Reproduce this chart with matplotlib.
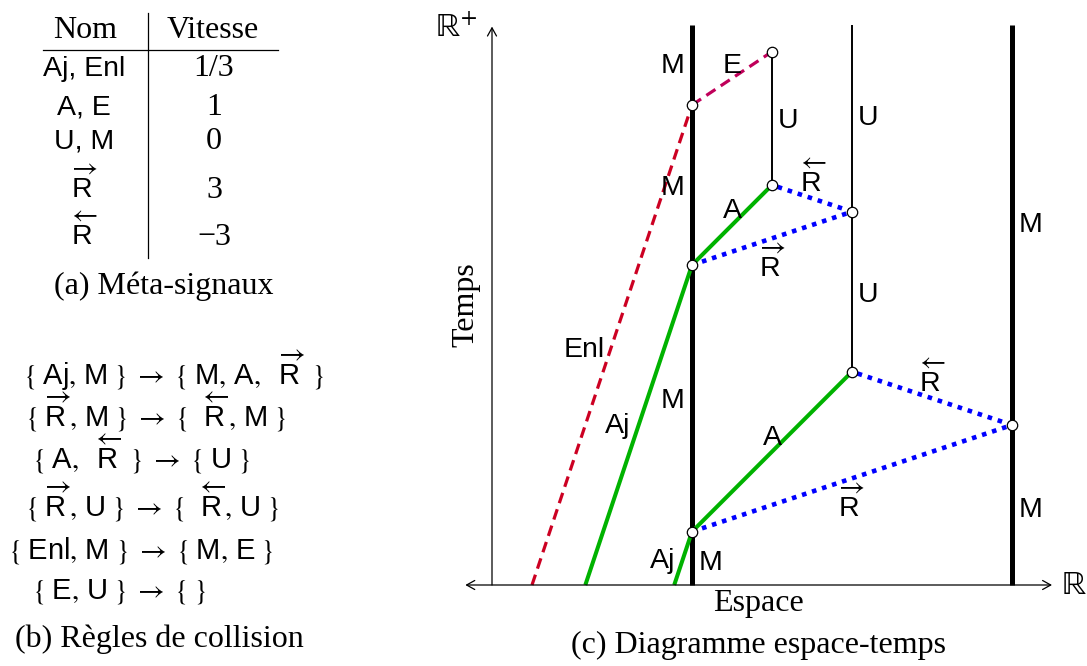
import matplotlib
matplotlib.use('Agg')
import matplotlib.pyplot as plt

plt.rcParams['mathtext.fontset'] = 'custom'
plt.rcParams['mathtext.rm'] = 'STIXGeneral'
plt.rcParams['mathtext.it'] = 'STIXGeneral:italic'
plt.rcParams['mathtext.sf'] = 'Liberation Sans'

SERIF = 'Liberation Serif'
SANS = 'Liberation Sans'
RR = r'$\overrightarrow{\mathsf{R}}$'
RL = r'$\overleftarrow{\mathsf{R}}$'

# (a) meta-signaux
sig_names = ['Aj, Enl', 'A, E', 'U, M', RR, RL]
sig_speeds = ['1/3', '1', '0', '3', '\u22123']

# (b) regles de collision
rules = [
    r'$\{\;\mathsf{Aj},\,\mathsf{M}\;\}\;\rightarrow\;\{\;\mathsf{M},\,\mathsf{A},\ \ \overrightarrow{\mathsf{R}}\;\;\}$',
    r'$\{\;\overrightarrow{\mathsf{R}}\,,\,\mathsf{M}\;\}\;\rightarrow\;\{\ \ \overleftarrow{\mathsf{R}}\,,\,\mathsf{M}\;\}$',
    r'$\{\;\mathsf{A},\ \ \overleftarrow{\mathsf{R}}\;\;\}\;\rightarrow\;\{\;\mathsf{U}\;\}$',
    r'$\{\;\overrightarrow{\mathsf{R}}\,,\,\mathsf{U}\;\}\;\rightarrow\;\{\ \ \overleftarrow{\mathsf{R}}\,,\,\mathsf{U}\;\}$',
    r'$\{\;\mathsf{Enl},\,\mathsf{M}\;\}\;\rightarrow\;\{\;\mathsf{M},\,\mathsf{E}\;\}$',
    r'$\{\;\mathsf{E},\,\mathsf{U}\;\}\;\rightarrow\;\{\;\}$',
]

# (c) diagramme espace-temps : x = espace, t = temps
T_TOP = 10.5
m_x = [0, 6]
u_x = [3, 1.5]
u_t0 = [4, 7.5]
u_t1 = [10.5, 10]
aj_x = [[-1/3, 0], [-2, 0]]
aj_t = [[0, 1], [0, 6]]
a_x = [[0, 3], [0, 1.5]]
a_t = [[1, 4], [6, 7.5]]
rr_x = [[0, 6], [0, 3]]
rr_t = [[1, 3], [6, 7]]
rl_x = [[6, 3], [3, 1.5]]
rl_t = [[3, 4], [7, 7.5]]
enl_x = [-3, 0]
enl_t = [0, 9]
e_x = [0, 1.5]
e_t = [9, 10]
coll_x = [0, 6, 3, 0, 3, 1.5, 0, 1.5]
coll_t = [1, 3, 4, 6, 7, 7.5, 9, 10]

labels = [
    ('M', -0.36, 9.6), ('E', 0.75, 9.6), ('U', 1.8, 8.57), ('U', 3.3, 8.63),
    (RL, 2.27, 7.37), ('M', -0.36, 7.31), ('A', 0.75, 6.88), (RR, 1.5, 5.78),
    ('M', 6.34, 6.62), ('U', 3.3, 5.31), ('Enl', -2.03, 4.28),
    (RL, 4.5, 3.62), ('M', -0.36, 3.32), ('Aj', -1.39, 2.85), ('A', 1.5, 2.63),
    (RR, 2.98, 1.28), ('M', 6.34, 1.28), ('Aj', -0.56, 0.32), ('M', 0.34, 0.28),
]

W, H = 1087, 666
fig = plt.figure(figsize=(W / 100, H / 100), dpi=100)

# left part, pixel coordinates
ax0 = fig.add_axes([0, 0, 1, 1])
ax0.set_xlim(0, W)
ax0.set_ylim(H, 0)
ax0.axis('off')

ax0.plot([43, 278], [50, 50], color='k', lw=0.9)
ax0.plot([148, 148], [13, 258], color='k', lw=0.9)
ax0.text(85, 38, 'Nom', family=SERIF, fontsize=23, ha='center', va='baseline')
ax0.text(213, 38, 'Vitesse', family=SERIF, fontsize=23, ha='center', va='baseline')
row_y = [76, 115, 149, 198, 245]
for name, speed, y in zip(sig_names, sig_speeds, row_y):
    ax0.text(84, y, name, family=SANS, fontsize=20.5, ha='center', va='baseline')
    ax0.text(214, y, speed, family=SERIF, fontsize=23, ha='center', va='baseline')
ax0.text(164, 294, '(a) Méta-signaux', family=SERIF, fontsize=23,
         ha='center', va='baseline')

rule_x = [23, 25, 32, 25, 8, 32]
rule_y = [385, 427, 468, 517, 558, 598]
for r, x, y in zip(rules, rule_x, rule_y):
    ax0.text(x, y, r, fontsize=21, ha='left', va='baseline')
ax0.text(159, 647, '(b) Règles de collision', family=SERIF, fontsize=23,
         ha='center', va='baseline')

# diagram, 1 unit = 160/3 px, origin at pixel (692, 585)
S = 160 / 3
X0, Y0 = 692, 585
xl = (-4.8, 7.4)
yl = (-1.5, 10.9)
left = X0 + S * xl[0]
bottom = H - (Y0 - S * yl[0])
ax = fig.add_axes([left / W, bottom / H, S * (xl[1] - xl[0]) / W,
                   S * (yl[1] - yl[0]) / H])
ax.set_xlim(*xl)
ax.set_ylim(*yl)
ax.axis('off')

arrow = dict(arrowstyle='->,head_length=0.45,head_width=0.25', lw=0.9,
             color='k', shrinkA=0, shrinkB=0, mutation_scale=13)
arrow2 = dict(arrow, arrowstyle='<->,head_length=0.45,head_width=0.25')
ax.annotate('', xy=(6.75, 0), xytext=(-4.25, 0), arrowprops=arrow2,
            annotation_clip=False)
ax.annotate('', xy=(-3.75, 10.47), xytext=(-3.75, 0), arrowprops=arrow,
            annotation_clip=False)

for x in m_x:
    ax.plot([x, x], [0, T_TOP], color='k', lw=3.6, solid_capstyle='butt')
for x, t0, t1 in zip(u_x, u_t0, u_t1):
    ax.plot([x, x], [t0, t1], color='k', lw=1.4, solid_capstyle='butt')

green = '#00b200'
for xs, ts in zip(aj_x + a_x, aj_t + a_t):
    ax.plot(xs, ts, color=green, lw=2.9, solid_capstyle='butt')
for xs, ts in zip(rr_x + rl_x, rr_t + rl_t):
    ax.plot(xs, ts, color='#0000ff', lw=3.3, linestyle=(0, (1, 1.3)))
ax.plot(enl_x, enl_t, color='#cc0022', lw=2.3, linestyle=(0, (3.4, 2.0)))
ax.plot(e_x, e_t, color='#c0005a', lw=2.3, linestyle=(0, (3.4, 2.0)))

ax.plot(coll_x, coll_t, linestyle='none', marker='o', markersize=7.5,
        markerfacecolor='white', markeredgecolor='k', markeredgewidth=0.9,
        zorder=5)

for txt, x, t in labels:
    ax.text(x, t, txt, family=SANS, fontsize=20.5, ha='center', va='baseline')

ax.text(-4.42, 10.46, '$\\mathrm{\u211d}^{+}$', fontsize=24,
        ha='center', va='center')
ax.text(7.16, 0, '$\\mathrm{\u211d}$', fontsize=24, ha='center', va='center')
ax.text(-4.24, 5.25, 'Temps', family=SERIF, fontsize=23, rotation=90,
        ha='center', va='center')
ax.text(1.24, -0.34, 'Espace', family=SERIF, fontsize=23, ha='center',
        va='center')
ax.text(1.24, -1.14, '(c) Diagramme espace-temps', family=SERIF, fontsize=23,
        ha='center', va='center')

fig.savefig('out.png', dpi=100)
